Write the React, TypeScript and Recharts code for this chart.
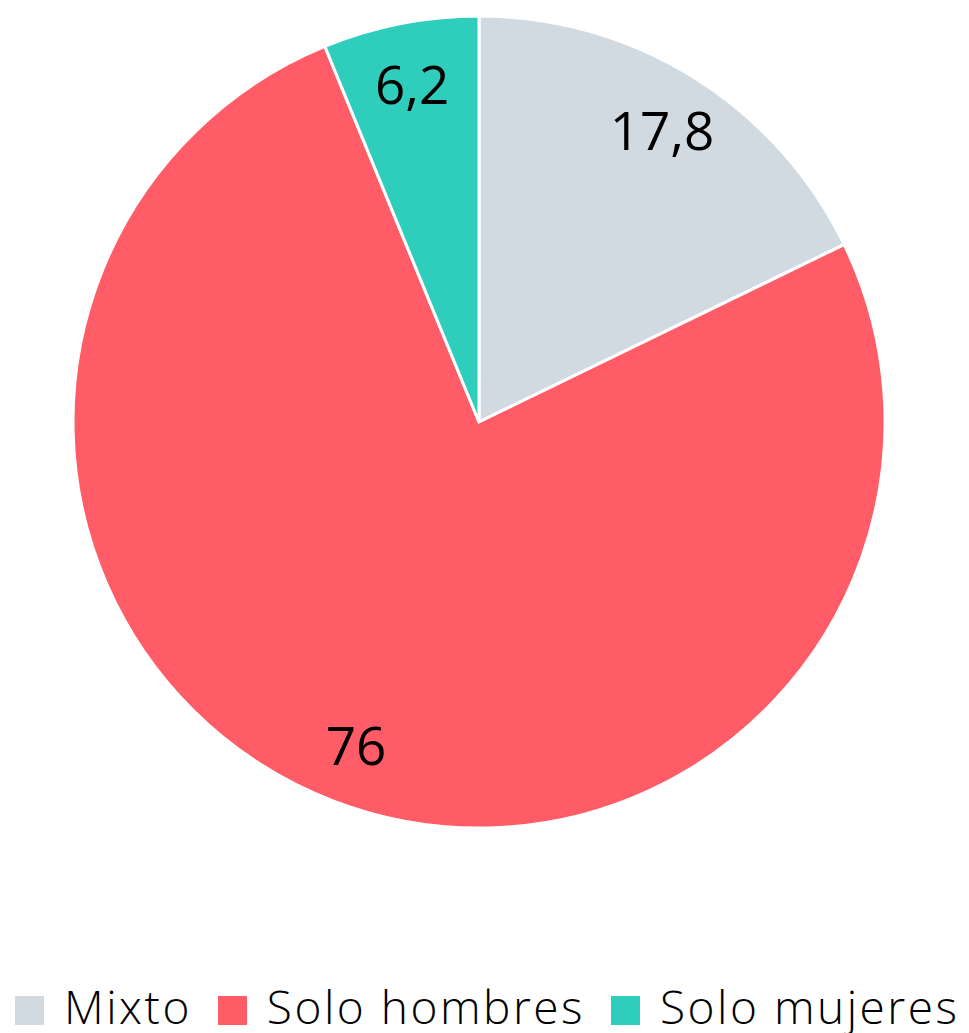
import React from 'react';
import { PieChart, Pie, Cell, Legend } from 'recharts';

const categories = ['Mixto', 'Solo hombres', 'Solo mujeres'];
const values = [17.8, 76, 6.2];
const valueLabels = ['17,8', '76', '6,2'];
const colors = ['#D2DAE1', '#FF5C67', '#2ECDBC'];

const data = categories.map((name, i) => ({ name, value: values[i], label: valueLabels[i] }));

const FONT = '"Open Sans", Lato, sans-serif';
const RADIAN = Math.PI / 180;

const renderLabel = (props: any) => {
  const { cx, cy, midAngle, outerRadius, index } = props;
  const r = outerRadius * 0.85;
  const x = cx + r * Math.cos(-midAngle * RADIAN);
  const y = cy + r * Math.sin(-midAngle * RADIAN);
  return (
    <text x={x} y={y} fill="#000" fontSize={53} fontFamily={FONT} textAnchor="middle" dominantBaseline="central">
      {data[index].label}
    </text>
  );
};

const renderLegend = () => (
  <div
    style={{
      display: 'flex',
      alignItems: 'flex-start',
      fontFamily: FONT,
      fontWeight: 300,
      fontSize: 46,
      lineHeight: '46px',
      letterSpacing: 2.5,
      color: '#000',
      whiteSpace: 'nowrap',
    }}
  >
    {data.map((d, i) => (
      <div key={d.name} style={{ display: 'flex', alignItems: 'flex-start', marginRight: 26 }}>
        <span
          style={{ display: 'inline-block', width: 29, height: 29, background: colors[i], marginRight: 20, marginTop: 13 }}
        />
        <span>{d.name}</span>
      </div>
    ))}
  </div>
);

export default function App() {
  return (
    <div style={{ width: 961, height: 1025 }}>
      <PieChart width={961} height={1025} margin={{ top: 0, right: 0, bottom: 0, left: 0 }}>
        <Pie
          data={data}
          dataKey="value"
          nameKey="name"
          cx={471}
          cy={414}
          outerRadius={406}
          startAngle={90}
          endAngle={-270}
          stroke="#fff"
          strokeWidth={3}
          label={renderLabel}
          labelLine={false}
          isAnimationActive={false}
        >
          {data.map((d, i) => (
            <Cell key={d.name} fill={colors[i]} />
          ))}
        </Pie>
        <Legend
          content={renderLegend}
          wrapperStyle={{ position: 'absolute', left: 7, top: 975, width: 960 }}
        />
      </PieChart>
    </div>
  );
}
